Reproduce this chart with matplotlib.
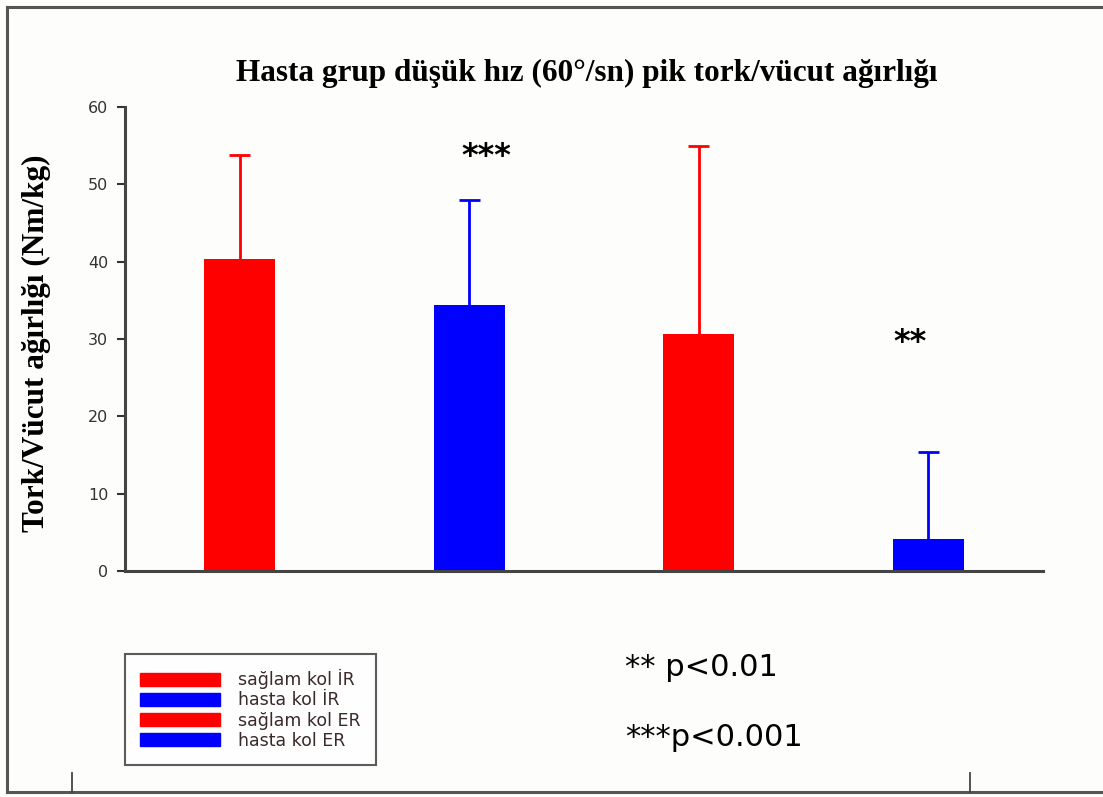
import matplotlib.pyplot as plt
from matplotlib.patches import Patch
from matplotlib.lines import Line2D

''' data '''
groups = ["sağlam kol İR", "hasta kol İR", "sağlam kol ER", "hasta kol ER"]
means = [40.3, 34.4, 30.7, 4.1]
sd_up = [13.5, 13.6, 24.3, 11.3]
colors = ["#ff0000", "#0000ff", "#ff0000", "#0000ff"]
stars = ["", "***", "", "**"]
star_x = [0, 1.074, 0, 2.92]
star_y = [0, 53.6, 0, 29.6]
yticks = [0, 10, 20, 30, 40, 50, 60]

W, H = 1103, 797
fig = plt.figure(figsize=(W / 100, H / 100), dpi=100)
fig.patch.set_facecolor("#fdfdfb")

def fx(px):
    return px / W

def fy(py):
    return 1 - py / H

# outer frame (left + top) and lower axis strip
fig.add_artist(Line2D([fx(7), fx(7)], [fy(7), fy(792)], color="#555555", lw=2.2))
fig.add_artist(Line2D([fx(7), 1], [fy(7), fy(7)], color="#555555", lw=2.2))
fig.add_artist(Line2D([fx(7), 1], [fy(792), fy(792)], color="#555555", lw=2.2))
for tx in [72, 970]:
    fig.add_artist(Line2D([fx(tx), fx(tx)], [fy(792), fy(773)], color="#444444", lw=1.3))

ax = fig.add_axes([fx(125), fy(571), fx(1043) - fx(125), fy(107) - fy(571)])
ax.set_facecolor("none")

x = list(range(len(means)))
cap = 0.045
for i in x:
    top = means[i] + sd_up[i]
    ax.bar(i, means[i], width=0.31, color=colors[i], zorder=2)
    ax.vlines(i, means[i], top, color=colors[i], lw=2, zorder=1)
    ax.hlines(top, i - cap, i + cap, color=colors[i], lw=2, zorder=1)
    if stars[i]:
        ax.text(star_x[i], star_y[i], stars[i], ha="center", va="center",
                fontsize=23, fontweight="bold", color="black",
                fontfamily="DejaVu Sans")

ax.set_xlim(-0.5, 3.5)
ax.set_ylim(0, 60)
ax.set_xticks([])
ax.set_yticks(yticks)
ax.tick_params(axis="y", length=6, width=1.5, color="#333333", labelsize=11.5,
               labelcolor="#333333", pad=6)
for lab in ax.get_yticklabels():
    lab.set_fontfamily("DejaVu Sans")
for s in ["top", "right"]:
    ax.spines[s].set_visible(False)
for s in ["left", "bottom"]:
    ax.spines[s].set_color("#444444")
    ax.spines[s].set_linewidth(2.2)

ax.set_ylabel("Tork/Vücut ağırlığı (Nm/kg)", fontfamily="Liberation Serif",
              fontweight="bold", fontsize=22.5)
ax.yaxis.set_label_coords(-0.081, 0.49)

fig.text(fx(587), fy(73), "Hasta grup düşük hız (60°/sn) pik tork/vücut ağırlığı",
         ha="center", va="center", fontfamily="Liberation Serif",
         fontweight="bold", fontsize=22.5)

handles = [Patch(facecolor=c, edgecolor=c) for c in colors]
leg = fig.legend(handles, groups, loc="upper left",
                 bbox_to_anchor=(fx(116), fy(645)), frameon=True,
                 fancybox=False, handlelength=4.6, handleheight=0.75,
                 labelspacing=0.12, borderpad=0.9, handletextpad=1.0,
                 prop={"family": "DejaVu Sans", "size": 12.5})
leg.get_frame().set_edgecolor("#333333")
leg.get_frame().set_linewidth(1.5)
for t in leg.get_texts():
    t.set_color("#3a2a2a")

fig.text(fx(625), fy(667), "** p<0.01", ha="left", va="center",
         fontfamily="DejaVu Sans", fontsize=22)
fig.text(fx(625), fy(737), "***p<0.001", ha="left", va="center",
         fontfamily="DejaVu Sans", fontsize=22)

fig.savefig("out.png", dpi=100, facecolor=fig.get_facecolor())
